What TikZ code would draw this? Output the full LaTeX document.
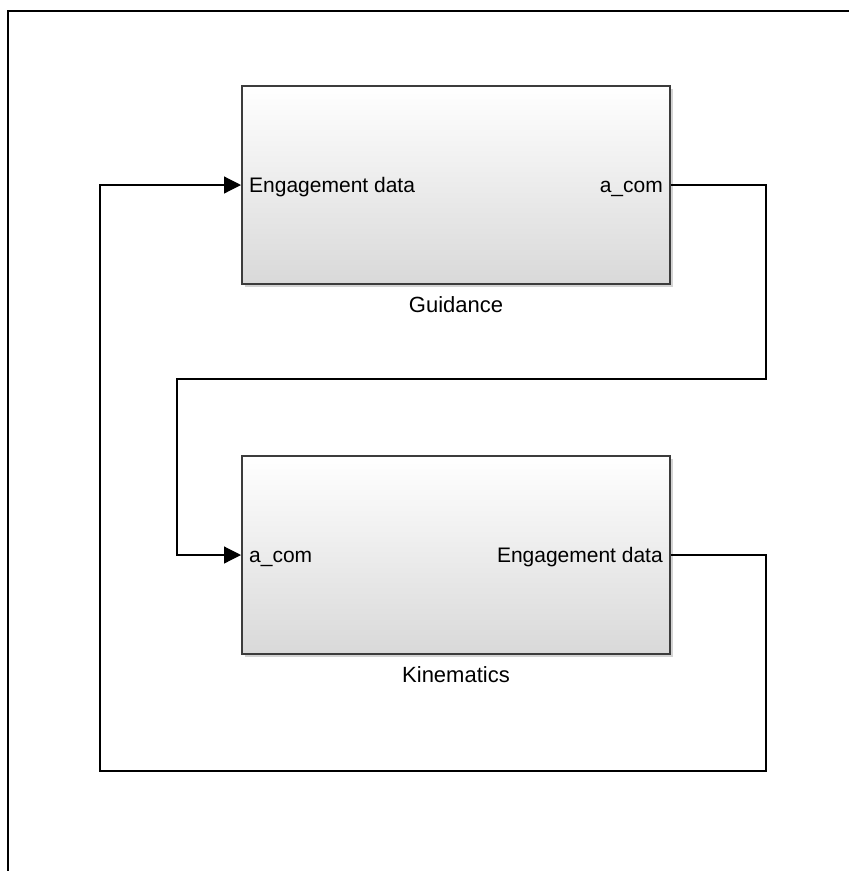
\documentclass[tikz,border=0pt]{standalone}
\usepackage{fontspec}
\setmainfont{Liberation Sans}
\usetikzlibrary{arrows.meta,shadows}
\definecolor{blkline}{HTML}{3C3C3C}
\tikzset{
  blk/.style={draw=blkline, line width=2pt, top color=white, bottom color=black!15,
    minimum width=428pt, minimum height=198pt, inner sep=0pt,
    drop shadow={shadow xshift=3pt, shadow yshift=-3pt, opacity=0.35}},
  port/.style={font=\fontsize{21}{24}\selectfont, inner sep=0pt},
  blkname/.style={font=\fontsize{22}{26}\selectfont, inner sep=0pt, anchor=base},
  wire/.style={line width=1.2pt, -{Triangle[length=17pt,width=17pt]}}
}
\begin{document}
\begin{tikzpicture}[x=1pt,y=-1pt]
\useasboundingbox (0,0) rectangle (849,871);
\draw[line width=1.5pt] (8,871) -- (8,11) -- (849,11);
\node[blk] (guid) at (456,185) {};
\node[blk] (kin) at (456,555) {};
\node[port, anchor=base west] (guidin) at ([xshift=8pt,yshift=-7pt]guid.west) {Engagement data};
\node[port, anchor=base east] (guidout) at ([xshift=-8pt,yshift=-7pt]guid.east) {a\_com};
\node[port, anchor=base west] (kinin) at ([xshift=8pt,yshift=-7pt]kin.west) {a\_com};
\node[port, anchor=base east] (kinout) at ([xshift=-8pt,yshift=-7pt]kin.east) {Engagement data};
\node[blkname] (guidname) at ([yshift=-27pt]guid.south) {Guidance};
\node[blkname] (kinname) at ([yshift=-27pt]kin.south) {Kinematics};
\coordinate (gbend) at (766,379);
\coordinate (kbend) at (177,379);
\coordinate (fbend) at (766,771);
\coordinate (rbend) at (100,771);
\draw[wire] (guid.east) -| (gbend) -- (kbend) |- (kin.west);
\draw[wire] (kin.east) -| (fbend) -- (rbend) |- (guid.west);
\end{tikzpicture}
\end{document}
